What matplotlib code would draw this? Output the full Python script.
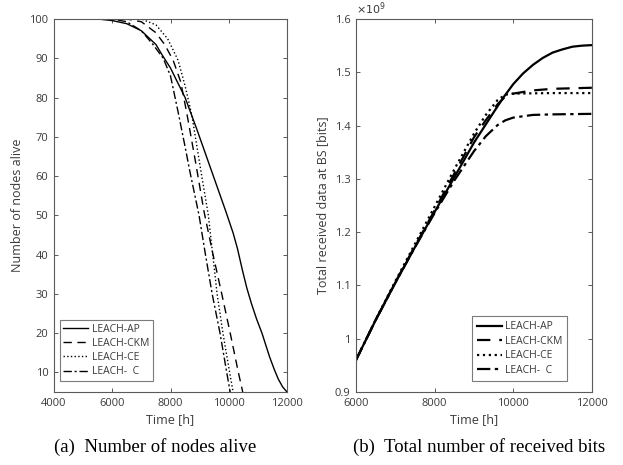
import numpy as np
import matplotlib
matplotlib.use('Agg')
import matplotlib.pyplot as plt
from matplotlib.ticker import FuncFormatter

plt.rcParams['font.family'] = ['Open Sans', 'DejaVu Sans']

# (a) number of nodes alive
ap_t = [4000, 5500, 6000, 6500, 7000, 7500, 7700, 8000, 8500, 8900, 9400, 9900,
        10150, 10300, 10470, 10620, 10780, 10960, 11140, 11400, 11560, 11700, 11850, 12000]
ap_n = [100, 100, 99.6, 98.8, 97, 93.5, 91, 87.5, 80, 72, 61.5, 51,
        45.5, 41.5, 36, 31.5, 27.5, 23.5, 20, 14, 10.8, 8.3, 6.3, 5]
ckm_t = [4000, 6500, 7000, 7500, 7800, 8090, 8350, 8560, 8850, 9150, 9460, 9760,
         10050, 10330, 10480]
ckm_n = [100, 100, 99.3, 96.5, 93.5, 89.5, 84, 76, 64, 51, 40, 30, 20, 10, 5]
ce_t = [4000, 7000, 7500, 7900, 8260, 8500, 8730, 9050, 9300, 9450, 9600, 9800,
        10030, 10150]
ce_n = [100, 100, 98.5, 95, 89.5, 83, 75.6, 61, 50, 40, 30, 20, 10, 5]
c_t = [4000, 6000, 6500, 7000, 7400, 7750, 8000, 8270, 8500, 8670, 8980, 9200,
       9430, 9700, 9930, 10050]
c_n = [100, 100, 99.3, 97, 93.5, 90, 85.5, 76, 67.5, 61, 50, 40, 30, 20, 10, 5]

# (b) total received data at BS, in units of 1e9 bits
ap_bt = [6000, 6500, 7000, 7500, 8000, 8500, 9000, 9500, 9750, 10000, 10250, 10500,
         10750, 11000, 11250, 11500, 11750, 12000]
ap_b = [0.96, 1.035, 1.105, 1.172, 1.238, 1.303, 1.368, 1.425, 1.453, 1.478, 1.498, 1.514,
        1.527, 1.537, 1.543, 1.548, 1.550, 1.551]
ckm_bt = [6000, 6500, 7000, 7500, 8000, 8500, 9000, 9300, 9600, 9800, 10000, 10500, 11000, 12000]
ckm_b = [0.96, 1.035, 1.106, 1.174, 1.241, 1.31, 1.378, 1.41, 1.44, 1.455, 1.46, 1.466, 1.469, 1.471]
ce_bt = [6000, 6500, 7000, 7500, 8000, 8500, 9000, 9300, 9600, 9800, 10000, 11000, 12000]
ce_b = [0.96, 1.036, 1.108, 1.178, 1.248, 1.318, 1.385, 1.42, 1.448, 1.458, 1.46, 1.461, 1.461]
c_bt = [6000, 6500, 7000, 7500, 8000, 8500, 9000, 9300, 9600, 9800, 10000, 10500, 11000, 12000]
c_b = [0.96, 1.035, 1.105, 1.172, 1.236, 1.297, 1.352, 1.38, 1.401, 1.41, 1.415, 1.42, 1.421, 1.422]

labels = ['LEACH-AP', 'LEACH-CKM', 'LEACH-CE', 'LEACH-  C']
styles = ['-', (0, (6, 4)), ':', (0, (6, 2, 1.5, 2))]

fig = plt.figure(figsize=(6.23, 4.65), dpi=100)
W, H = 623, 465
axl = fig.add_axes([54 / W, 1 - 392 / H, 233 / W, 373 / H])
axr = fig.add_axes([356 / W, 1 - 392 / H, 236 / W, 373 / H])

tcol = '#3a3a3a'
scol = '#5a5a5a'


def style_axes(ax):
    for s in ax.spines.values():
        s.set_color(scol)
        s.set_linewidth(0.8)
    ax.tick_params(direction='in', top=True, right=True, length=3,
                   width=0.7, color=scol, labelcolor=tcol, labelsize=8, pad=4)


def style_legend(leg):
    leg.get_frame().set_edgecolor(scol)
    leg.get_frame().set_linewidth(0.8)
    for txt in leg.get_texts():
        txt.set_color(tcol)


series_a = [(ap_t, ap_n), (ckm_t, ckm_n), (ce_t, ce_n), (c_t, c_n)]
for (t, n), ls, lab in zip(series_a, styles, labels):
    axl.plot(t, n, linestyle=ls, color='black', linewidth=1.0, label=lab)
axl.set_xlim(4000, 12000)
axl.set_ylim(5, 100)
axl.set_xticks([4000, 6000, 8000, 10000, 12000])
axl.set_yticks(range(10, 101, 10))
axl.set_xlabel('Time [h]', color=tcol, fontsize=9, labelpad=3)
axl.set_ylabel('Number of nodes alive', color=tcol, fontsize=9, labelpad=4)
style_axes(axl)
leg = axl.legend(loc='lower left', fontsize=7.5, frameon=True, fancybox=False,
                 handlelength=2.4, handletextpad=0.3, borderpad=0.35,
                 labelspacing=0.3, borderaxespad=0.0, bbox_to_anchor=(0.025, 0.03))
style_legend(leg)

series_b = [(ap_bt, ap_b), (ckm_bt, ckm_b), (ce_bt, ce_b), (c_bt, c_b)]
for (t, b), ls, lab in zip(series_b, styles, labels):
    axr.plot(t, b, linestyle=ls, color='black', linewidth=1.6, label=lab)
axr.set_xlim(6000, 12000)
axr.set_ylim(0.9, 1.6)
axr.set_xticks([6000, 8000, 10000, 12000])
axr.set_yticks([0.9, 1.0, 1.1, 1.2, 1.3, 1.4, 1.5, 1.6])
axr.yaxis.set_major_formatter(FuncFormatter(lambda v, p: '%g' % round(v, 2)))
axr.set_xlabel('Time [h]', color=tcol, fontsize=9, labelpad=3)
axr.set_ylabel('Total received data at BS [bits]', color=tcol, fontsize=9, labelpad=4)
style_axes(axr)
axr.text(0.0, 1.005, r'$\times10^{9}$', transform=axr.transAxes, ha='left',
         va='bottom', fontsize=8, color=tcol)
leg2 = axr.legend(loc='lower right', fontsize=7.5, frameon=True, fancybox=False,
                  handlelength=2.4, handletextpad=0.3, borderpad=0.45,
                  labelspacing=0.35, borderaxespad=0.0, bbox_to_anchor=(0.895, 0.03))
style_legend(leg2)

fig.text(155 / W, 1 - 447 / H, '(a)  Number of nodes alive', ha='center', va='center',
         fontsize=13.5, family='Liberation Serif', color='black')
fig.text(479 / W, 1 - 447 / H, '(b)  Total number of received bits', ha='center',
         va='center', fontsize=13.5, family='Liberation Serif', color='black')

fig.savefig('out.png', dpi=100)
